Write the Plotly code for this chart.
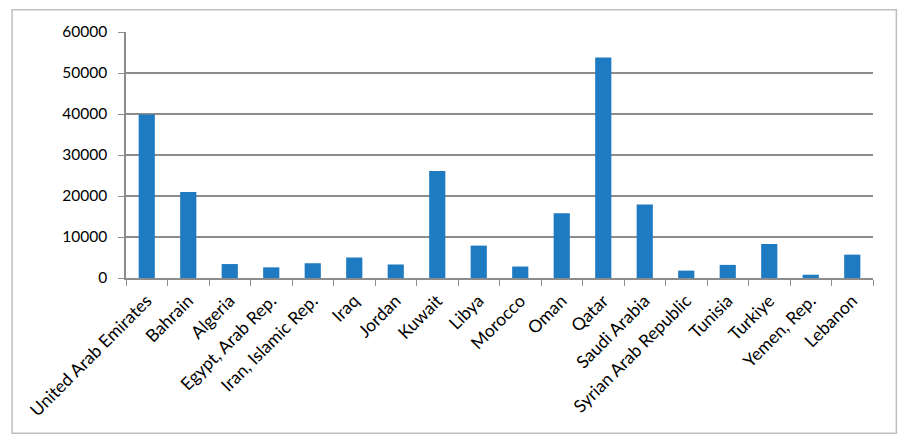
import plotly.graph_objects as go

countries = [
    "United Arab Emirates", "Bahrain", "Algeria", "Egypt, Arab Rep.",
    "Iran, Islamic Rep.", "Iraq", "Jordan", "Kuwait", "Libya", "Morocco",
    "Oman", "Qatar", "Saudi Arabia", "Syrian Arab Republic", "Tunisia",
    "Turkiye", "Yemen, Rep.", "Lebanon",
]
values = [
    39900, 21000, 3400, 2600, 3600, 5000, 3300, 26100, 7900, 2800,
    15800, 53800, 17900, 1800, 3200, 8300, 800, 5700,
]

BAR_COLOR = "#1f7bc1"
GRID = "#8c8c8c"

fig = go.Figure(go.Bar(x=countries, y=values, marker_color=BAR_COLOR, marker_line_width=0))

# the page body adds an 8px offset, so margins are shifted to land the plot area
# at the same place as in the reference picture
fig.update_layout(
    width=906,
    height=446,
    margin=dict(l=118, r=41, t=24, b=176),
    paper_bgcolor="white",
    plot_bgcolor="white",
    font=dict(family="Lato, sans-serif", size=16, color="#000"),
    bargap=0.61,
    showlegend=False,
    # rectangle frame around the whole chart area
    shapes=[
        dict(
            type="rect", xref="paper", yref="paper",
            x0=-0.1525, x1=1.0313, y0=-0.6314, y1=1.0908,
            line=dict(color="#bfbfbf", width=1.5),
        )
    ],
)
fig.update_xaxes(
    showgrid=False,
    showline=True,
    linecolor=GRID,
    linewidth=1.5,
    ticks="outside",
    tickson="boundaries",
    ticklen=6,
    tickcolor=GRID,
    tickangle=-45,
    tickfont=dict(size=17.5),
    ticklabelstandoff=4,
)
fig.update_yaxes(
    range=[0, 60000],
    dtick=10000,
    tickformat="d",
    showgrid=True,
    gridcolor=GRID,
    gridwidth=1.5,
    showline=True,
    linecolor=GRID,
    linewidth=1.5,
    ticks="outside",
    ticklen=6,
    tickcolor=GRID,
    zeroline=False,
    ticksuffix="  ",
    tickfont=dict(size=15.5),
)

fig.write_html("out.html")
